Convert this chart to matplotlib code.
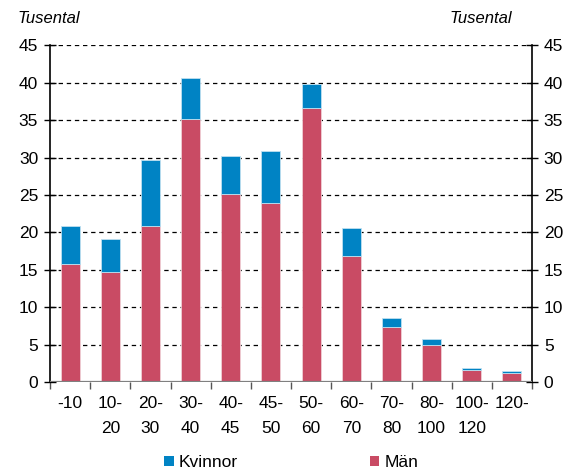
import numpy as np
import matplotlib
matplotlib.use("Agg")
from matplotlib import pyplot as plt

plt.rcParams['font.family'] = ['Liberation Sans', 'DejaVu Sans']

# income classes (thousands) and counts (thousands)
labels = ['-10', '10-\n20', '20-\n30', '30-\n40', '40-\n45', '45-\n50',
          '50-\n60', '60-\n70', '70-\n80', '80-\n100', '100-\n120', '120-']
man = [15.8, 14.75, 20.8, 35.2, 25.1, 23.9, 36.6, 16.8, 7.3, 4.9, 1.65, 1.2]
kvinnor = [5.0, 4.35, 8.9, 5.4, 5.15, 7.0, 3.2, 3.8, 1.2, 0.8, 0.2, 0.23]

RED = '#C94B64'
BLUE = '#0083C4'

fig = plt.figure(figsize=(5.69, 4.69), dpi=100)
ax = fig.add_axes([0.0879, 0.1855, 0.8471, 0.7175])

x = np.arange(len(labels))
ax.bar(x, man, width=0.47, color=RED, edgecolor='#f0d0d6', linewidth=0.6,
       label='Män', zorder=3)
ax.bar(x, kvinnor, width=0.47, bottom=man, color=BLUE, edgecolor='#bfe0f0',
       linewidth=0.6, label='Kvinnor', zorder=3)

ax.set_xlim(-0.5, len(labels) - 0.5)
ax.set_ylim(0, 45)
ax.set_yticks(np.arange(0, 46, 5))
for v in range(5, 46, 5):
    ax.axhline(v, color='black', lw=0.9, ls=(0, (3.5, 3)), zorder=1)
ax.axhline(0, color='#808080', lw=1.6, zorder=4)

# category boundaries as ticks, labels centered under bars
ax.set_xticks(np.arange(-0.5, len(labels), 1.0))
ax.set_xticklabels([])
ax.set_xticks(x, minor=True)
ax.set_xticklabels(labels, minor=True, fontsize=12.5, linespacing=1.85)
ax.tick_params(axis='x', which='major', direction='out', length=5,
               color='#555555', width=1)
ax.tick_params(axis='x', which='minor', length=0, pad=10)
ax.tick_params(axis='y', direction='inout', length=9, width=1,
               labelsize=12.5, right=True, labelright=True, pad=4)

for s in ['top', 'bottom']:
    ax.spines[s].set_visible(False)
ax.spines['left'].set_linewidth(1.2)
ax.spines['right'].set_linewidth(1.2)

fig.text(0.031, 0.961, 'Tusental', style='italic', fontsize=12, va='center')
fig.text(0.900, 0.961, 'Tusental', style='italic', fontsize=12, va='center',
         ha='right')

h, l = ax.get_legend_handles_labels()
leg = fig.legend([h[1], h[0]], [l[1], l[0]], loc='center',
                 bbox_to_anchor=(0.512, 0.013), ncol=2, frameon=False,
                 fontsize=12.5, handlelength=0.55, handleheight=0.55,
                 handletextpad=0.3, columnspacing=7.6)
for p in leg.legend_handles:
    p.set_edgecolor('none')

fig.savefig('out.png', dpi=100)
